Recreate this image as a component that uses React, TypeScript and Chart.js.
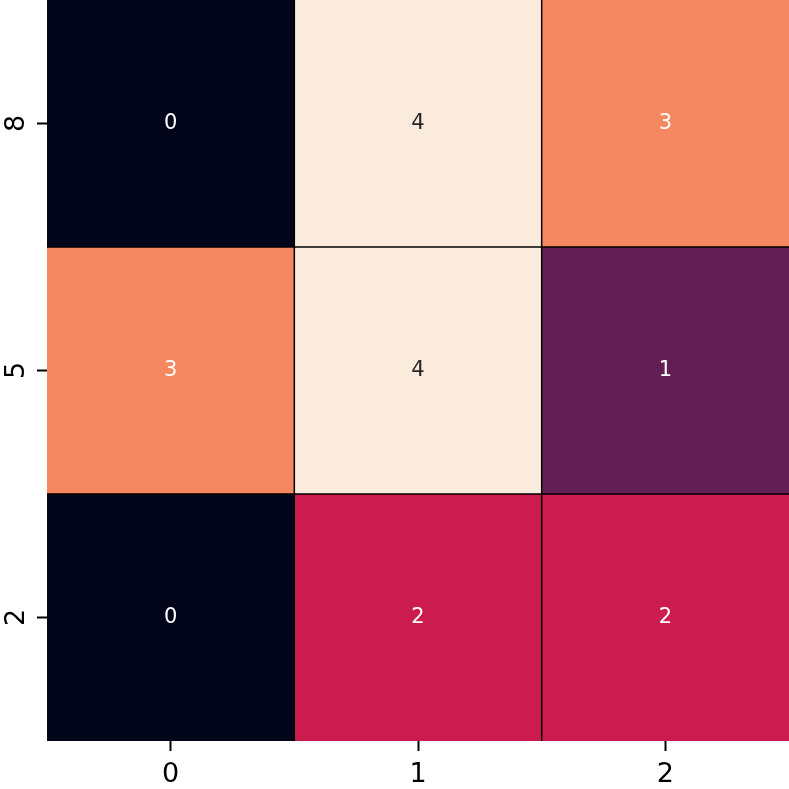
import React, { useEffect, useRef } from 'react';
import { Chart, registerables } from 'chart.js';

Chart.register(...registerables);

const columns = ['0', '1', '2'];
const rows = ['2', '5', '8']; // bottom to top
const values = [
  [0, 2, 2], // row '2'
  [3, 4, 1], // row '5'
  [0, 4, 3], // row '8'
];
const palette = ['#03051a', '#611f53', '#cb1b4f', '#f58860', '#faebdd'];
const textColors = ['#ffffff', '#ffffff', '#ffffff', '#ffffff', '#262626'];

const annotate = {
  id: 'annotate',
  afterDatasetsDraw(chart: any) {
    const ctx = chart.ctx;
    ctx.save();
    ctx.font = '21px "DejaVu Sans"';
    ctx.textAlign = 'center';
    ctx.textBaseline = 'middle';
    chart.data.datasets.forEach((ds: any, i: number) => {
      const meta = chart.getDatasetMeta(i);
      meta.data.forEach((el: any, j: number) => {
        const v = values[i][j];
        ctx.fillStyle = textColors[v];
        ctx.fillText(String(v), el.x, (el.y + el.base) / 2);
      });
    });
    ctx.restore();
  },
};

export default function App() {
  const ref = useRef<HTMLCanvasElement | null>(null);
  useEffect(() => {
    if (!ref.current) return;
    const nRows = rows.length;
    const nCols = columns.length;
    const chart = new Chart(ref.current, {
      type: 'bar',
      data: {
        labels: columns,
        datasets: rows.map((r, i) => ({
          label: r,
          data: values[i].map(() => [i, i + 1]) as any,
          backgroundColor: values[i].map((v) => palette[v]),
          borderColor: '#000000',
          borderWidth: values[i].map((_, j) => ({
            left: j > 0 ? 1.1 : 0,
            right: j < nCols - 1 ? 1.1 : 0,
            bottom: i > 0 ? 1.1 : 0,
            top: i < nRows - 1 ? 1.1 : 0,
          })) as any,
          borderSkipped: false,
          grouped: false,
          barPercentage: 1,
          categoryPercentage: 1,
        })),
      },
      options: {
        animation: false,
        responsive: false,
        maintainAspectRatio: false,
        layout: { padding: 0 },
        plugins: {
          legend: { display: false },
          tooltip: { enabled: false },
        },
        scales: {
          x: {
            type: 'category',
            offset: true,
            grid: {
              offset: false,
              display: true,
              drawOnChartArea: false,
              drawTicks: true,
              tickLength: 10,
              tickColor: '#000000',
              tickWidth: 2,
            },
            border: { display: false },
            ticks: {
              color: '#000000',
              padding: 8,
              font: { family: 'DejaVu Sans', size: 27 },
              maxRotation: 0,
              minRotation: 0,
            },
            afterFit: (s: any) => {
              s.height = 48;
              s.paddingLeft = 0;
              s.paddingRight = 0;
            },
          },
          y: {
            type: 'linear',
            min: 0,
            max: 3,
            afterBuildTicks: (s: any) => {
              s.ticks = [0.5, 1.5, 2.5].map((v) => ({ value: v }));
            },
            grid: {
              display: true,
              drawOnChartArea: false,
              drawTicks: true,
              tickLength: 10,
              tickColor: '#000000',
              tickWidth: 2,
            },
            border: { display: false },
            ticks: {
              color: '#000000',
              padding: 11,
              crossAlign: 'center',
              minRotation: 90,
              maxRotation: 90,
              font: { family: 'DejaVu Sans', size: 27 },
              callback: (v: any) => rows[Math.floor(Number(v))],
            },
            afterFit: (s: any) => {
              s.width = 47;
              s.paddingTop = 0;
              s.paddingBottom = 0;
            },
          },
        },
      },
      plugins: [annotate],
    });
    return () => chart.destroy();
  }, []);
  return (
    <div style={{ position: 'absolute', left: 0, top: 0, width: 789, height: 789, background: '#ffffff' }}>
      <canvas ref={ref} width={789} height={789} style={{ width: 789, height: 789, display: 'block' }} />
    </div>
  );
}
